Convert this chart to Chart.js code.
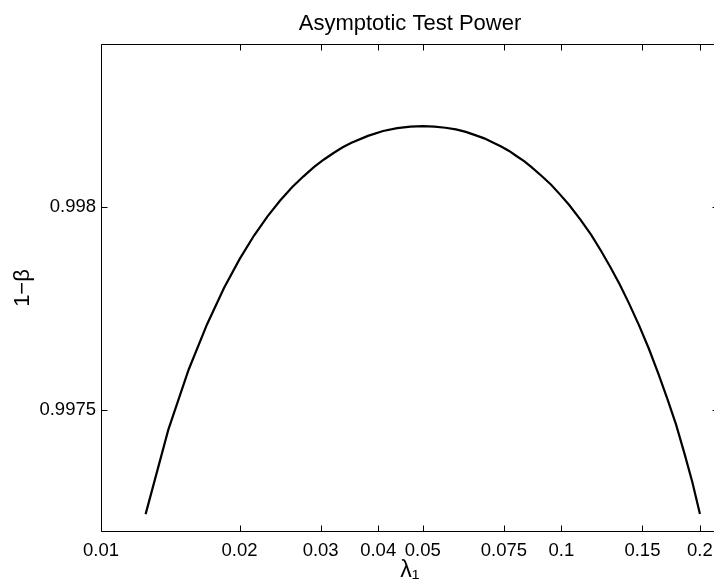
<!DOCTYPE html>
<html>
<head>
<meta charset="utf-8">
<script src="https://cdn.jsdelivr.net/npm/chart.js@4/dist/chart.umd.min.js"></script>
<style>
  html, body { margin: 0; padding: 0; background: #fff; overflow: hidden; }
  #wrap { position: absolute; left: 0; top: 0; width: 740px; height: 586px; }
</style>
</head>
<body>
<div id="wrap"><canvas id="c"></canvas></div>
<script>
// ---- data ----
const chartTitle = "Asymptotic Test Power";
const xTitle = "λ₁";
const yTitle = "1−β";

const lambdaValues = [0.0125, 0.014, 0.0155, 0.017, 0.0185, 0.02, 0.0215, 0.023, 0.0245, 0.026,
                      0.0275, 0.029, 0.0305, 0.032, 0.0335, 0.035, 0.038, 0.041, 0.044, 0.047,
                      0.05, 0.053, 0.056, 0.059, 0.062, 0.065, 0.068, 0.071, 0.074, 0.077,
                      0.08, 0.083, 0.086, 0.0905, 0.095, 0.0995, 0.104, 0.11, 0.116, 0.122,
                      0.128, 0.134, 0.14, 0.1475, 0.155, 0.1625, 0.17, 0.1775, 0.185, 0.1925,
                      0.2];
const powerValues  = [0.997244, 0.997451, 0.997599, 0.997711, 0.997800, 0.997871, 0.997929, 0.997976, 0.998015, 0.998048,
                      0.998074, 0.998097, 0.998116, 0.998132, 0.998146, 0.998157, 0.998174, 0.998186, 0.998193, 0.998197,
                      0.998198, 0.998197, 0.998194, 0.998190, 0.998184, 0.998176, 0.998168, 0.998158, 0.998148, 0.998137,
                      0.998124, 0.998112, 0.998098, 0.998076, 0.998054, 0.998029, 0.998004, 0.997968, 0.997931, 0.997891,
                      0.997850, 0.997808, 0.997764, 0.997708, 0.997650, 0.997589, 0.997527, 0.997464, 0.997394, 0.997323,
                      0.997244];

const xTicks = [0.01, 0.02, 0.03, 0.04, 0.05, 0.075, 0.1, 0.15, 0.2];
const yTicks = [0.9975, 0.998];
const xRange = [0.01, 0.22];
const yRange = [0.9972, 0.9984];

const FONT = "'Liberation Sans', Arial, Helvetica, sans-serif";

const boxPlugin = {
  id: 'matlabBox',
  afterDatasetsDraw(chart) {
    const {ctx, chartArea: a, scales} = chart;
    const L = Math.round(a.left) + 0.5, R = Math.round(a.right) - 0.5;
    const T = Math.round(a.top) + 0.5, B = Math.round(a.bottom) - 0.5;
    const tl = 6;
    ctx.save();
    ctx.strokeStyle = '#000';
    ctx.lineWidth = 1;
    ctx.beginPath();
    ctx.rect(L, T, R - L, B - T);
    scales.x.ticks.forEach(t => {
      const px = Math.round(scales.x.getPixelForValue(t.value)) + 0.5;
      ctx.moveTo(px, B); ctx.lineTo(px, B - tl);
      ctx.moveTo(px, T); ctx.lineTo(px, T + tl);
    });
    scales.y.ticks.forEach(t => {
      const py = Math.round(scales.y.getPixelForValue(t.value)) + 0.5;
      ctx.moveTo(L, py); ctx.lineTo(L + tl, py);
      ctx.moveTo(R, py); ctx.lineTo(R - tl, py);
    });
    ctx.stroke();
    // title centred over the axes
    ctx.fillStyle = '#000';
    ctx.font = '22px ' + FONT;
    ctx.textAlign = 'center';
    ctx.textBaseline = 'alphabetic';
    ctx.fillText(chartTitle, (a.left + a.right) / 2, 30);
    ctx.restore();
  }
};

new Chart(document.getElementById('c'), {
  type: 'line',
  data: {
    datasets: [{
      data: lambdaValues.map((x, i) => ({x: x, y: powerValues[i]})),
      borderColor: '#000',
      borderWidth: 2.2,
      pointRadius: 0,
      tension: 0,
      fill: false
    }]
  },
  options: {
    responsive: true,
    maintainAspectRatio: false,
    animation: false,
    layout: { padding: { left: 0, right: 21, top: 44, bottom: 0 } },
    plugins: { legend: { display: false }, title: { display: false }, tooltip: { enabled: false } },
    scales: {
      x: {
        type: 'logarithmic',
        min: xRange[0], max: xRange[1],
        grid: { display: false, drawTicks: false },
        border: { display: false },
        afterBuildTicks: s => { s.ticks = xTicks.map(v => ({value: v})); },
        afterFit: s => { s.height = 54; },
        ticks: {
          autoSkip: false, maxRotation: 0, padding: 8, color: '#000',
          font: { family: FONT, size: 18.5 },
          callback: v => String(v)
        },
        title: { display: true, text: xTitle, color: '#000', font: { family: FONT, size: 23 }, padding: { top: 0, bottom: 2 } }
      },
      y: {
        type: 'linear',
        min: yRange[0], max: yRange[1],
        grid: { display: false, drawTicks: false },
        border: { display: false },
        afterBuildTicks: s => { s.ticks = yTicks.map(v => ({value: v})); },
        afterFit: s => { s.width = 101; },
        ticks: {
          padding: 5, color: '#000',
          font: { family: FONT, size: 18.5 },
          callback: v => String(v)
        },
        title: { display: true, text: yTitle, color: '#000', font: { family: FONT, size: 22 }, padding: { top: 10, bottom: 0 } }
      }
    }
  },
  plugins: [boxPlugin]
});
</script>
</body>
</html>
